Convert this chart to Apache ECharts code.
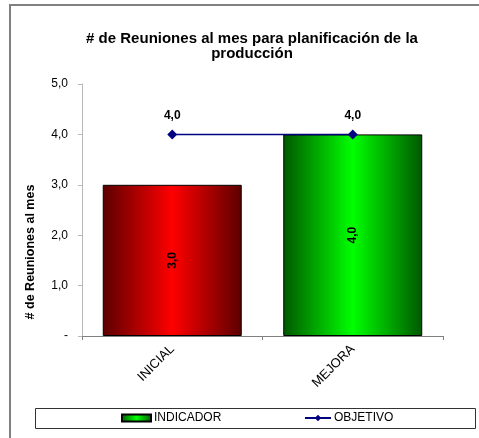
<!DOCTYPE html>
<html>
<head>
<meta charset="utf-8">
<script src="https://cdn.jsdelivr.net/npm/echarts@6/dist/echarts.min.js"></script>
<style>
  html, body { margin: 0; padding: 0; background: #fff; }
  #chart { width: 479px; height: 438px; }
</style>
</head>
<body>
<div id="chart"></div>
<script>
// Monthly production-planning meetings: baseline vs. improvement, with target line
const categories = ['INICIAL', 'MEJORA'];
const indicador = [3.0, 4.0];
const objetivo = [4.0, 4.0];
const seriesNames = ['INDICADOR', 'OBJETIVO'];
const titleText = '# de Reuniones al mes para planificación de la\nproducción';
const yAxisTitle = '# de Reuniones al mes';

const FONT = '"Liberation Sans", Arial, sans-serif';

function fmt(v) {
  return v === 0 ? '-' : v.toFixed(1).replace('.', ',');
}

function barGradient(edge, mid) {
  return new echarts.graphic.LinearGradient(0, 0, 1, 0, [
    { offset: 0, color: edge },
    { offset: 0.5, color: mid },
    { offset: 1, color: edge }
  ]);
}

const greenFill = barGradient('#005800', '#00ff00');
const redFill = barGradient('#5c0000', '#ff0000');

const barData = indicador.map((v, i) =>
  i === 0 ? { value: v, itemStyle: { color: redFill } } : { value: v }
);

const chart = echarts.init(document.getElementById('chart'), null, { renderer: 'canvas' });

chart.setOption({
  animation: false,
  backgroundColor: '#ffffff',
  textStyle: { fontFamily: FONT },
  title: {
    text: titleText,
    left: 247,
    top: 26,
    textAlign: 'center',
    textStyle: { fontFamily: FONT, fontSize: 15, fontWeight: 'bold', color: '#000', lineHeight: 15 }
  },
  grid: { left: 82, right: 36, top: 84, bottom: 102 },
  legend: [
    {
      data: [{ name: seriesNames[0], icon: 'rect' }],
      left: 121, top: 412, padding: 0,
      itemWidth: 29, itemHeight: 7,
      textStyle: { fontFamily: FONT, fontSize: 12, color: '#000', padding: [0, 0, 0, -2] }
    },
    {
      data: [seriesNames[1]],
      left: 304, top: 412, padding: 0,
      itemWidth: 26, itemHeight: 8,
      textStyle: { fontFamily: FONT, fontSize: 12, color: '#000', padding: [0, 0, 0, -2] }
    }
  ],
  graphic: [
    {
      type: 'rect', z: -1, silent: true,
      shape: { x: 10, y: 5, width: 480, height: 440 },
      style: { fill: 'none', stroke: '#808080', lineWidth: 2 }
    },
    {
      type: 'rect', z: 0, silent: true,
      shape: { x: 35.5, y: 408.5, width: 440, height: 20 },
      style: { fill: '#fff', stroke: '#333', lineWidth: 1 }
    },
    {
      type: 'text', silent: true,
      x: 31, y: 252, rotation: Math.PI / 2,
      style: {
        text: yAxisTitle, font: 'bold 12.5px ' + FONT, fill: '#000',
        align: 'center', verticalAlign: 'middle'
      }
    }
  ],
  xAxis: {
    type: 'category',
    data: categories,
    boundaryGap: true,
    axisLine: { lineStyle: { color: '#808080', width: 1 } },
    axisTick: { show: true, length: 4, lineStyle: { color: '#808080' } },
    axisLabel: { rotate: 45, fontFamily: FONT, fontSize: 13, color: '#000', margin: 11 }
  },
  yAxis: {
    type: 'value',
    min: 0, max: 5, interval: 1,
    axisLine: { show: true, lineStyle: { color: '#b8b8b8', width: 1 } },
    axisTick: { show: true, length: 4, lineStyle: { color: '#b8b8b8' } },
    splitLine: { show: false },
    axisLabel: { formatter: fmt, fontFamily: FONT, fontSize: 12, color: '#000', margin: 14 }
  },
  series: [
    {
      name: seriesNames[0],
      type: 'bar',
      data: barData,
      barCategoryGap: '23%',
      itemStyle: { color: greenFill, borderColor: '#000', borderWidth: 1 },
      label: {
        show: true, position: 'inside', rotate: 90,
        formatter: p => fmt(p.value),
        fontFamily: FONT, fontSize: 12, fontWeight: 'bold', color: '#000'
      }
    },
    {
      name: seriesNames[1],
      type: 'line',
      data: objetivo,
      symbol: 'diamond', symbolSize: 10,
      lineStyle: { color: '#000080', width: 1.5 },
      itemStyle: { color: '#000080' },
      label: {
        show: true, position: 'top', distance: 8,
        formatter: p => fmt(p.value),
        fontFamily: FONT, fontSize: 12, fontWeight: 'bold', color: '#000'
      },
      z: 3
    }
  ]
});
</script>
</body>
</html>
